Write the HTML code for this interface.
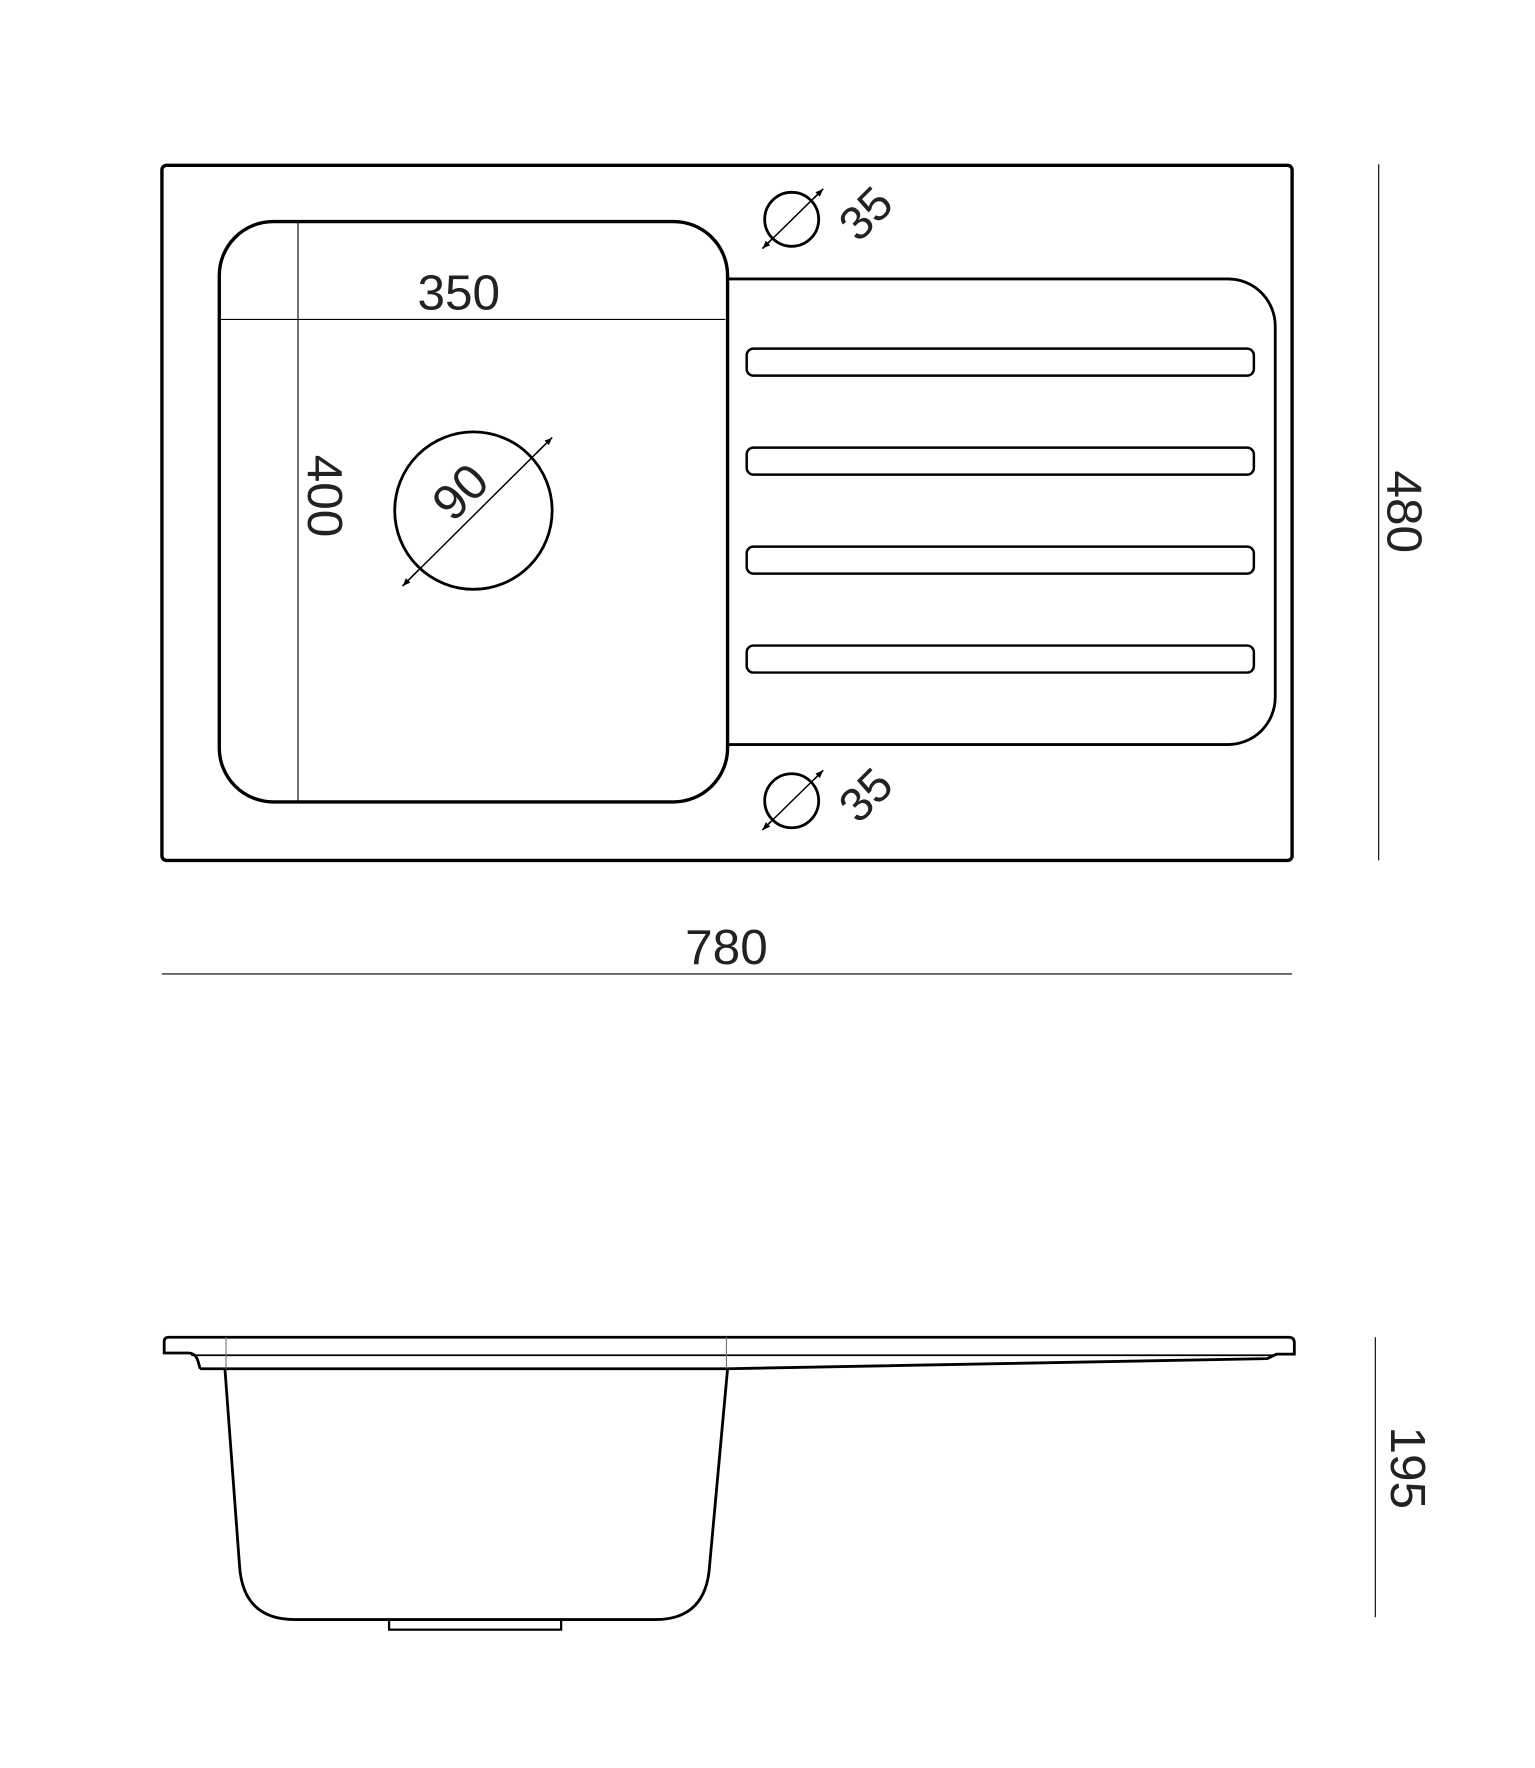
<!DOCTYPE html>
<html><head><meta charset="utf-8"><style>
html,body{margin:0;padding:0;background:#fff;}
svg{display:block;}
text{font-family:"Liberation Sans",sans-serif;fill:#222;}
</style></head><body>
<svg width="1535" height="1768" viewBox="0 0 1365 1572" preserveAspectRatio="none" xmlns="http://www.w3.org/2000/svg">
<defs>
<marker id="ar" viewBox="0 0 10 10" refX="10" refY="5" markerWidth="7" markerHeight="7" orient="auto-start-reverse" markerUnits="userSpaceOnUse"><path d="M0,1 L10,5 L0,9 z" fill="#000"/></marker>
</defs>
<g fill="none" stroke="#000">
<rect x="144" y="147" width="1005" height="618" rx="4" stroke-width="3"/>
<rect x="195" y="197" width="452" height="516" rx="48" stroke-width="3"/>
<path d="M647,248 H1092 A42,42 0 0 1 1134,290 V620 A42,42 0 0 1 1092,662 H647" stroke-width="2.5"/>
<rect x="664" y="310" width="451" height="24" rx="6" stroke-width="2.2"/>
<rect x="664" y="398" width="451" height="24" rx="6" stroke-width="2.2"/>
<rect x="664" y="486" width="451" height="24" rx="6" stroke-width="2.2"/>
<rect x="664" y="574" width="451" height="24" rx="6" stroke-width="2.2"/>
<line x1="196" y1="284" x2="645" y2="284" stroke-width="1"/>
<line x1="265" y1="198" x2="265" y2="712" stroke-width="1"/>
<circle cx="421" cy="454" r="70" stroke-width="2.5"/>
<line x1="358" y1="521" x2="491" y2="389" stroke-width="1.3"/>
<line x1="372" y1="507" x2="358" y2="521" stroke-width="1.3" marker-end="url(#ar)"/>
<line x1="477" y1="403" x2="491" y2="389" stroke-width="1.3" marker-end="url(#ar)"/>
<circle cx="704" cy="195" r="24" stroke-width="2.5"/>
<line x1="678" y1="221" x2="732" y2="168" stroke-width="1.3"/>
<line x1="686" y1="213" x2="678" y2="221" stroke-width="1.3" marker-end="url(#ar)"/>
<line x1="724" y1="176" x2="732" y2="168" stroke-width="1.3" marker-end="url(#ar)"/>
<circle cx="704" cy="712" r="24" stroke-width="2.5"/>
<line x1="678" y1="738" x2="732" y2="685" stroke-width="1.3"/>
<line x1="686" y1="730" x2="678" y2="738" stroke-width="1.3" marker-end="url(#ar)"/>
<line x1="724" y1="693" x2="732" y2="685" stroke-width="1.3" marker-end="url(#ar)"/>
<line x1="144" y1="866" x2="1149" y2="866" stroke-width="1"/>
<line x1="1226" y1="146" x2="1226" y2="765" stroke-width="1"/>
<line x1="1223" y1="1189" x2="1223" y2="1438" stroke-width="1"/>
<path d="M150,1189 H1146 Q1151,1189 1151,1194 V1204 H1135 L1127,1208 L647,1217 H200 M178,1217 H200 M146,1193 Q146,1189 150,1189 M146,1193 V1203 H167 Q174,1203 176,1210 L178,1217" stroke-width="2.5"/>
<line x1="170" y1="1205" x2="1135" y2="1205" stroke-width="1.5"/>
<path d="M200,1217 L213,1392 Q216,1440 262,1440 H583 Q628,1440 631,1392 L647,1217" stroke-width="2.5"/>
<rect x="346" y="1440" width="153" height="9" stroke-width="2"/>
<line x1="201" y1="1189" x2="201" y2="1217" stroke="#777" stroke-width="1"/>
<line x1="646" y1="1189" x2="646" y2="1217" stroke="#777" stroke-width="1"/>
</g>
<text x="408" y="275" font-size="44" text-anchor="middle">350</text>
<text transform="translate(274,441) rotate(90)" font-size="44" text-anchor="middle">400</text>
<text transform="translate(420,448) rotate(-45)" font-size="44" text-anchor="middle">90</text>
<text transform="translate(780,200) rotate(-45)" font-size="42" text-anchor="middle">35</text>
<text transform="translate(780,717) rotate(-45)" font-size="42" text-anchor="middle">35</text>
<text x="646" y="857" font-size="44" text-anchor="middle">780</text>
<text transform="translate(1234,455) rotate(90)" font-size="44" text-anchor="middle">480</text>
<text transform="translate(1237,1305) rotate(90)" font-size="44" text-anchor="middle">195</text>
</svg>
</body></html>
